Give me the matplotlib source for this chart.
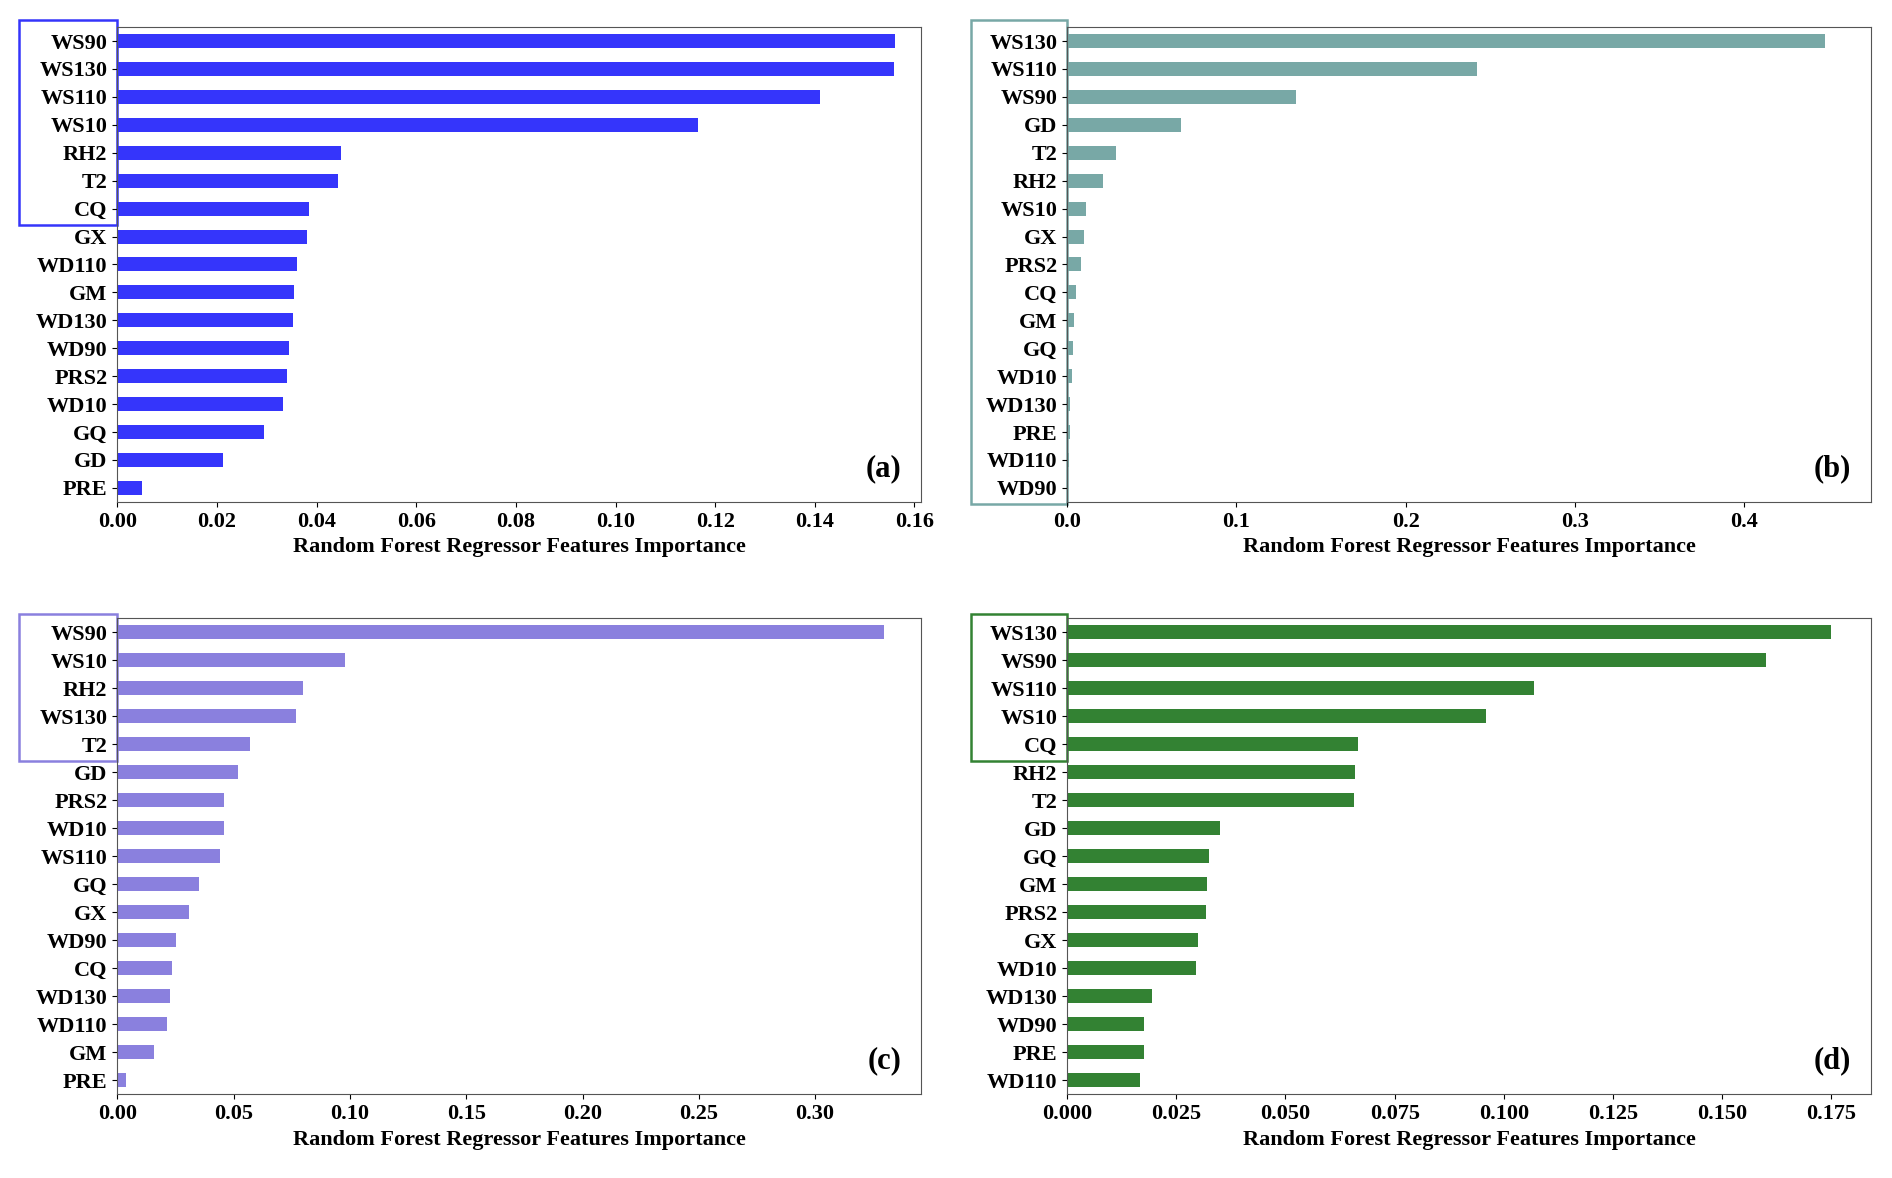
import matplotlib.pyplot as plt
import matplotlib.patches as mpatches

plt.rcParams['font.family'] = ['Liberation Serif', 'DejaVu Serif']
plt.rcParams['font.weight'] = 'bold'

# feature names and importances, top to bottom as drawn
names_a = ['WS90', 'WS130', 'WS110', 'WS10', 'RH2', 'T2', 'CQ', 'GX', 'WD110', 'GM',
           'WD130', 'WD90', 'PRS2', 'WD10', 'GQ', 'GD', 'PRE']
vals_a = [0.156, 0.1558, 0.141, 0.1165, 0.045, 0.0443, 0.0385, 0.038, 0.036, 0.0355,
          0.0352, 0.0345, 0.034, 0.0332, 0.0295, 0.0212, 0.005]

names_b = ['WS130', 'WS110', 'WS90', 'GD', 'T2', 'RH2', 'WS10', 'GX', 'PRS2', 'CQ',
           'GM', 'GQ', 'WD10', 'WD130', 'PRE', 'WD110', 'WD90']
vals_b = [0.448, 0.242, 0.135, 0.067, 0.029, 0.021, 0.011, 0.010, 0.008, 0.005,
          0.004, 0.0035, 0.003, 0.002, 0.0015, 0.001, 0.0008]

names_c = ['WS90', 'WS10', 'RH2', 'WS130', 'T2', 'GD', 'PRS2', 'WD10', 'WS110', 'GQ',
           'GX', 'WD90', 'CQ', 'WD130', 'WD110', 'GM', 'PRE']
vals_c = [0.3295, 0.098, 0.080, 0.077, 0.057, 0.052, 0.046, 0.0457, 0.044, 0.035,
          0.031, 0.0254, 0.0234, 0.0228, 0.0213, 0.0156, 0.0036]

names_d = ['WS130', 'WS90', 'WS110', 'WS10', 'CQ', 'RH2', 'T2', 'GD', 'GQ', 'GM',
           'PRS2', 'GX', 'WD10', 'WD130', 'WD90', 'PRE', 'WD110']
vals_d = [0.175, 0.160, 0.107, 0.096, 0.0665, 0.066, 0.0658, 0.035, 0.0325, 0.032,
          0.0318, 0.030, 0.0296, 0.0194, 0.0175, 0.0175, 0.0168]

panels = [
    # names, values, colour, xmax, xticks, tag, box (x0, y0, y1 in axes fraction), axes rect
    (names_a, vals_a, '#3535fb', 0.1614, [i * 0.02 for i in range(9)], '(a)', (-0.122, 0.584, 1.015),
     [0.062, 0.574, 0.425, 0.403]),
    (names_b, vals_b, '#78a8a6', 0.475, [0, 0.1, 0.2, 0.3, 0.4], '(b)', (-0.119, -0.005, 1.015),
     [0.564, 0.574, 0.425, 0.403]),
    (names_c, vals_c, '#8a80de', 0.3457, [0, 0.05, 0.10, 0.15, 0.20, 0.25, 0.30], '(c)', (-0.122, 0.70, 1.01),
     [0.062, 0.071, 0.425, 0.404]),
    (names_d, vals_d, '#338233', 0.1841, [i * 0.025 for i in range(8)], '(d)', (-0.119, 0.70, 1.01),
     [0.564, 0.071, 0.425, 0.404]),
]

fmts = ['%.2f', '%.1f', '%.2f', '%.3f']

fig = plt.figure(figsize=(18.92, 11.78), dpi=100)
for (names, vals, col, xmax, ticks, tag, box, rect), fmt in zip(panels, fmts):
    ax = fig.add_axes(rect)
    y = list(range(len(names)))
    ax.barh(y, vals, height=0.5, color=col)
    ax.set_yticks(y)
    ax.set_yticklabels(names)
    ax.set_ylim(len(names) - 0.5, -0.5)
    ax.set_xlim(0, xmax)
    ax.set_xticks(ticks)
    ax.set_xticklabels([fmt % t for t in ticks])
    ax.tick_params(labelsize=16)
    ax.set_xlabel('Random Forest Regressor Features Importance', fontsize=16, fontweight='bold')
    for s in ax.spines.values():
        s.set_color('#555555')
    ax.text(0.975, 0.04, tag, transform=ax.transAxes, ha='right', va='bottom', fontsize=22, fontweight='bold')
    x0, y0, y1 = box
    ax.add_patch(mpatches.Rectangle((x0, y0), -x0, y1 - y0, transform=ax.transAxes, fill=False,
                                    edgecolor=col, linewidth=1.8, clip_on=False))

fig.savefig('out.png', dpi=100)
